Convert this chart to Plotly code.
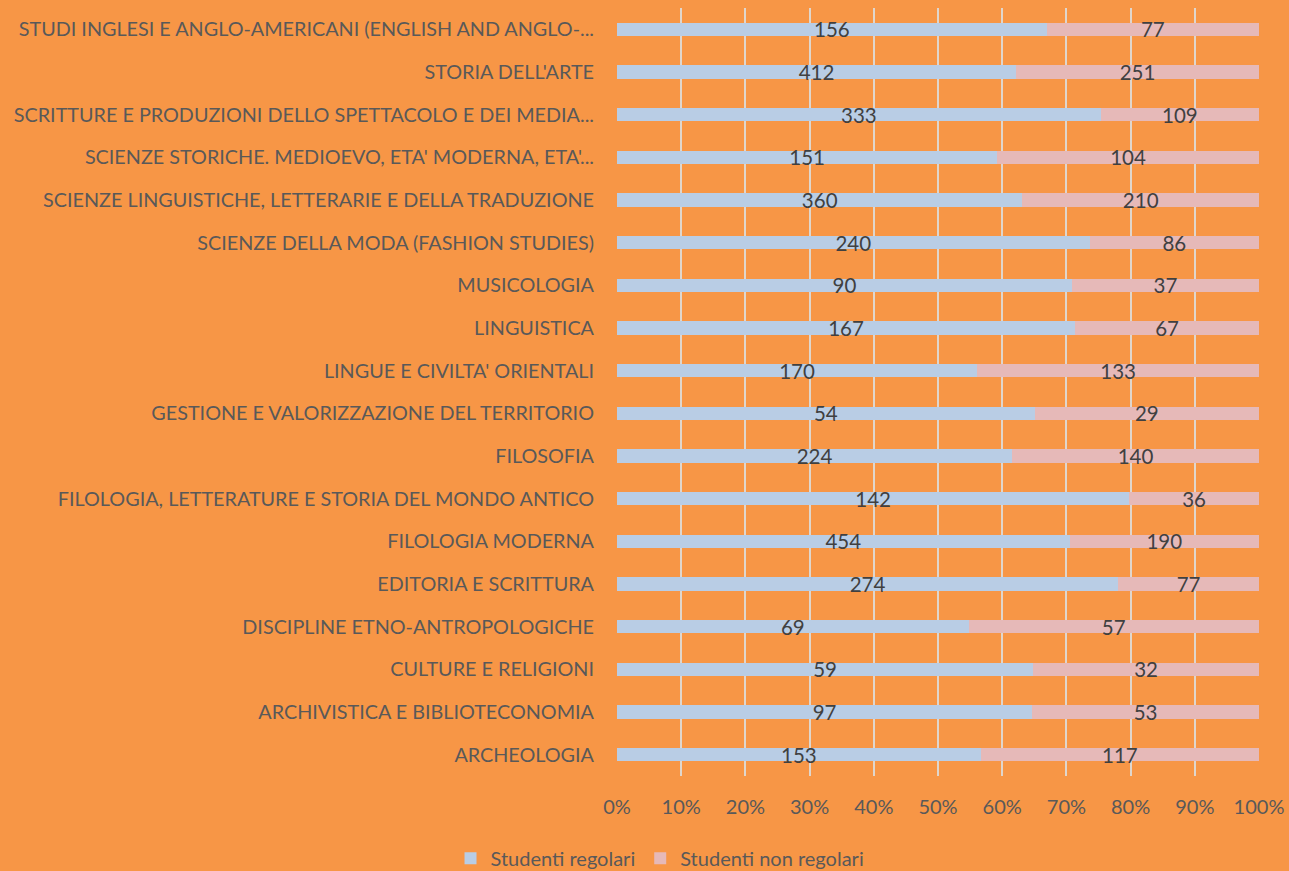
import plotly.graph_objects as go

categories = [
    "ARCHEOLOGIA",
    "ARCHIVISTICA E BIBLIOTECONOMIA",
    "CULTURE E RELIGIONI",
    "DISCIPLINE ETNO-ANTROPOLOGICHE",
    "EDITORIA E SCRITTURA",
    "FILOLOGIA MODERNA",
    "FILOLOGIA, LETTERATURE E STORIA DEL MONDO ANTICO",
    "FILOSOFIA",
    "GESTIONE E VALORIZZAZIONE DEL TERRITORIO",
    "LINGUE E CIVILTA' ORIENTALI",
    "LINGUISTICA",
    "MUSICOLOGIA",
    "SCIENZE DELLA MODA (FASHION STUDIES)",
    "SCIENZE LINGUISTICHE, LETTERARIE E DELLA TRADUZIONE",
    "SCIENZE STORICHE. MEDIOEVO, ETA' MODERNA, ETA'...",
    "SCRITTURE E PRODUZIONI DELLO SPETTACOLO E DEI MEDIA...",
    "STORIA DELL'ARTE",
    "STUDI INGLESI E ANGLO-AMERICANI (ENGLISH AND ANGLO-...",
]
regolari = [153, 97, 59, 69, 274, 454, 142, 224, 54, 170, 167, 90, 240, 360, 151, 333, 412, 156]
non_regolari = [117, 53, 32, 57, 77, 190, 36, 140, 29, 133, 67, 37, 86, 210, 104, 109, 251, 77]
tick_vals = [0, 10, 20, 30, 40, 50, 60, 70, 80, 90, 100]
tick_text = ["0%", "10%", "20%", "30%", "40%", "50%", "60%", "70%", "80%", "90%", "100%"]

totals = [a + b for a, b in zip(regolari, non_regolari)]
pct_reg = [a / t * 100 for a, t in zip(regolari, totals)]
pct_non = [b / t * 100 for b, t in zip(non_regolari, totals)]

FONT = "Lato"
TXT = "#595959"
LBL = "#404040"

fig = go.Figure()
fig.add_trace(go.Bar(
    y=categories, x=pct_reg, orientation="h", name="Studenti regolari",
    marker=dict(color="#B9CDE5", line=dict(width=0)),
    text=[str(v) for v in regolari], textposition="inside", insidetextanchor="middle",
    textangle=0, constraintext="none", textfont=dict(family=FONT, size=20.5, color=LBL),
    hoverinfo="skip",
))
fig.add_trace(go.Bar(
    y=categories, x=pct_non, orientation="h", name="Studenti non regolari",
    marker=dict(color="#E6B9B8", line=dict(width=0)),
    text=[str(v) for v in non_regolari], textposition="inside", insidetextanchor="middle",
    textangle=0, constraintext="none", textfont=dict(family=FONT, size=20.5, color=LBL),
    hoverinfo="skip",
))

fig.update_layout(
    barmode="stack",
    bargap=0.69,
    width=1289, height=871,
    margin=dict(l=617, r=30, t=8, b=95, autoexpand=False),
    paper_bgcolor="#F79646",
    plot_bgcolor="#F79646",
    font=dict(family=FONT, size=20, color=TXT),
    showlegend=True,
    legend=dict(orientation="h", x=0.067, xanchor="center", y=-0.107, yanchor="middle",
                font=dict(family=FONT, size=20, color=TXT), bgcolor="rgba(0,0,0,0)",
                itemwidth=30, traceorder="normal"),
    xaxis=dict(range=[0, 100], tickvals=tick_vals, ticktext=tick_text,
               showgrid=True, gridcolor="#E0D6CC", gridwidth=2, zeroline=False,
               showline=False, ticks="", tickfont=dict(family=FONT, size=20, color=TXT),
               ticklabelstandoff=17, fixedrange=True, automargin=False),
    yaxis=dict(showgrid=False, zeroline=False, showline=False, ticks="",
               tickfont=dict(family=FONT, size=19.8, color=TXT), ticklabelstandoff=22,
               automargin=False, fixedrange=True),
)

fig.write_html(
    "out.html",
    config={"displayModeBar": False},
    post_script="document.body.style.margin='0';document.body.style.background='#F79646';",
)
